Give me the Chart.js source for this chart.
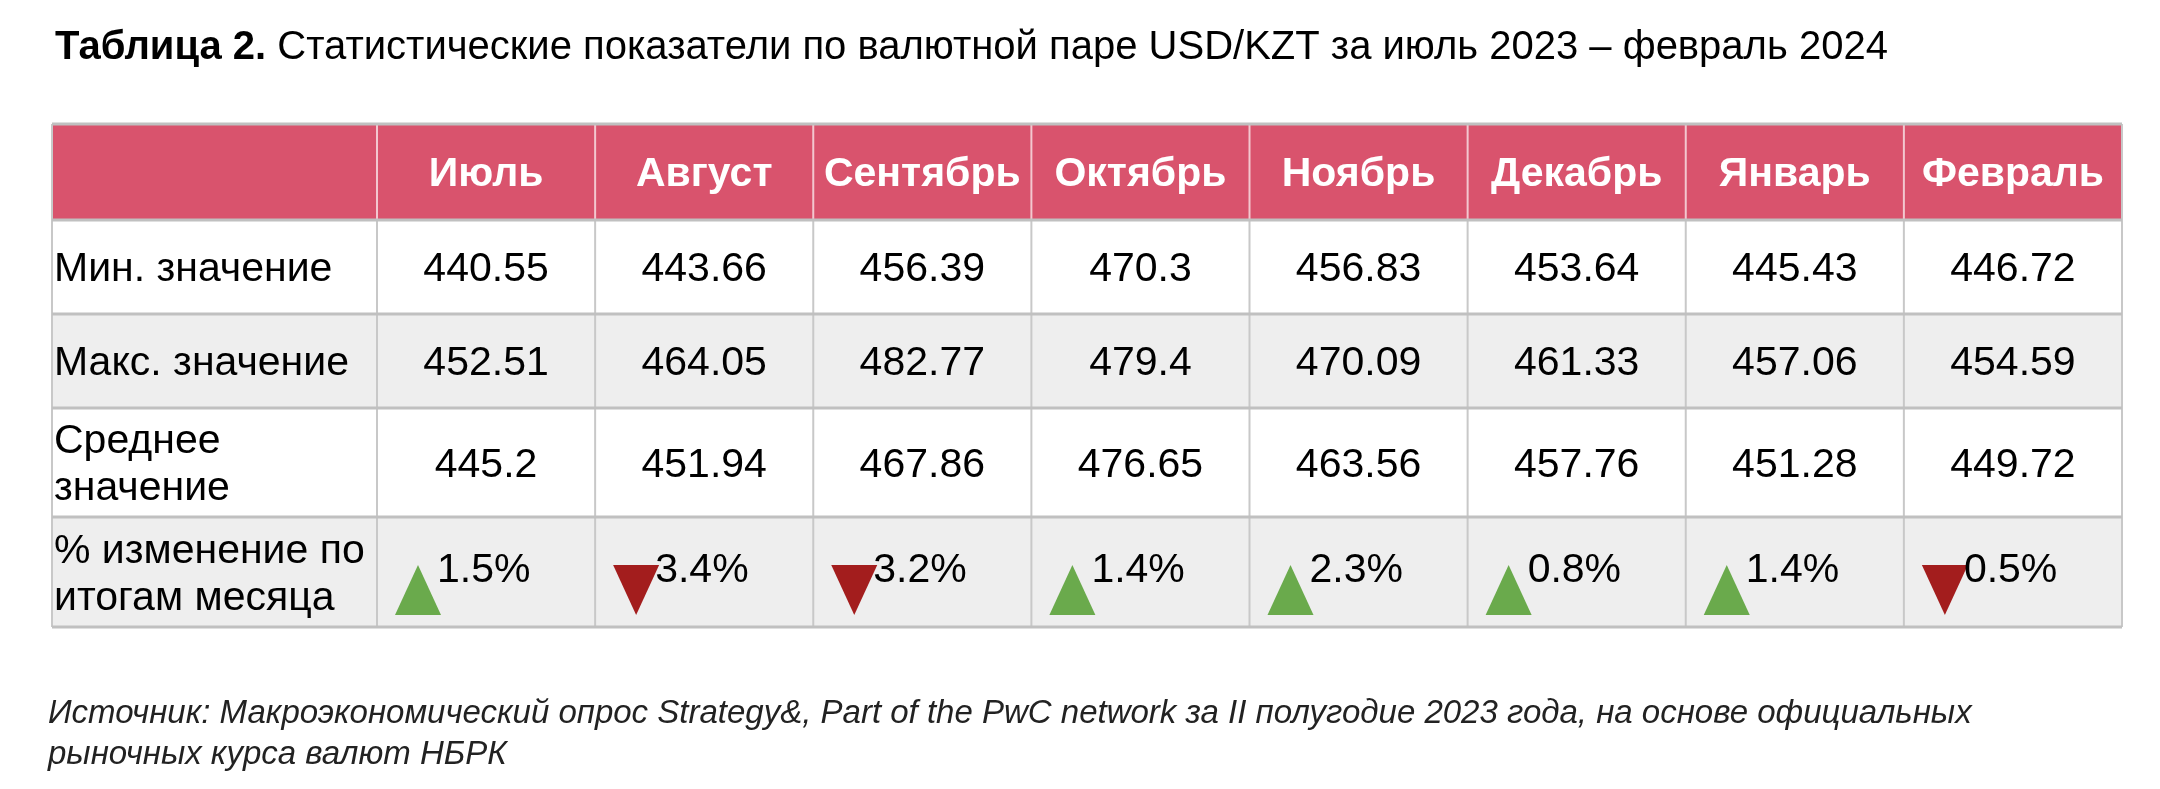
<!DOCTYPE html>
<html lang="ru">
<head>
<meta charset="UTF-8">
<title>USD/KZT</title>
<script src="https://cdn.jsdelivr.net/npm/chart.js"></script>
<style>
  html, body { margin: 0; padding: 0; background: #fff; }
  #wrap { width: 2160px; height: 789px; }
</style>
</head>
<body>
<div id="wrap"><canvas id="tbl"></canvas></div>
<script>
    // данные таблицы
    const months = ['Июль', 'Август', 'Сентябрь', 'Октябрь', 'Ноябрь', 'Декабрь', 'Январь', 'Февраль'];
    const rowLabels = [['Мин. значение'], ['Макс. значение'], ['Среднее', 'значение'], ['% изменение по', 'итогам месяца']];
    const minVals = ['440.55', '443.66', '456.39', '470.3', '456.83', '453.64', '445.43', '446.72'];
    const maxVals = ['452.51', '464.05', '482.77', '479.4', '470.09', '461.33', '457.06', '454.59'];
    const avgVals = ['445.2', '451.94', '467.86', '476.65', '463.56', '457.76', '451.28', '449.72'];
    const changeVals = [1.5, -3.4, -3.2, 1.4, 2.3, 0.8, 1.4, -0.5];

    // границы колонок и строк в единицах шкал
    const colEdges = [0, 1.49, 2.49, 3.49, 4.49, 5.49, 6.49, 7.49, 8.49, 9.49];
    const rowEdges = [0, 0.96, 1.90, 2.84, 3.93, 5.03];

    const FONT = 'Arial, "Liberation Sans", sans-serif';

    const tablePlugin = {
        id: 'tablePlugin',
        afterDraw(chart) {
            const c = chart.ctx, sx = chart.scales.x, sy = chart.scales.y;
            const X = v => sx.getPixelForValue(v), Y = v => sy.getPixelForValue(v);
            c.save();

            // заголовок
            c.fillStyle = '#000';
            c.textBaseline = 'middle';
            c.textAlign = 'left';
            c.font = 'bold 40px ' + FONT;
            const t1 = 'Таблица 2.';
            c.fillText(t1, 55, 48);
            const w1 = c.measureText(t1).width;
            c.font = '40px ' + FONT;
            c.fillText(' Статистические показатели по валютной паре USD/KZT за июль 2023 – февраль 2024', 55 + w1, 48);

            // фон строк
            const rowFill = ['#d9536d', '#ffffff', '#eeeeee', '#ffffff', '#eeeeee'];
            for (let r = 0; r < 5; r++) {
                c.fillStyle = rowFill[r];
                c.fillRect(X(0), Y(rowEdges[r]), X(9.49) - X(0), Y(rowEdges[r + 1]) - Y(rowEdges[r]));
            }

            // линии
            c.lineWidth = 2;
            for (let i = 0; i < colEdges.length; i++) {
                c.strokeStyle = '#c8c8c8';
                c.beginPath(); c.moveTo(X(colEdges[i]), Y(rowEdges[1])); c.lineTo(X(colEdges[i]), Y(rowEdges[5])); c.stroke();
                c.strokeStyle = (i === 0 || i === colEdges.length - 1) ? '#c8c8c8' : '#f3c7cf';
                c.beginPath(); c.moveTo(X(colEdges[i]), Y(rowEdges[0])); c.lineTo(X(colEdges[i]), Y(rowEdges[1])); c.stroke();
            }
            c.strokeStyle = '#c0c0c0';
            c.lineWidth = 3;
            for (let r = 0; r < rowEdges.length; r++) {
                c.beginPath(); c.moveTo(X(0), Y(rowEdges[r])); c.lineTo(X(9.49), Y(rowEdges[r])); c.stroke();
            }

            // шапка
            c.fillStyle = '#fff';
            c.textAlign = 'center';
            c.font = 'bold 41px ' + FONT;
            months.forEach((m, i) => {
                c.fillText(m, (X(colEdges[i + 1]) + X(colEdges[i + 2])) / 2, (Y(rowEdges[0]) + Y(rowEdges[1])) / 2 + 3);
            });

            // подписи строк
            c.fillStyle = '#000';
            c.textAlign = 'left';
            c.font = '41px ' + FONT;
            rowLabels.forEach((lines, r) => {
                const mid = (Y(rowEdges[r + 1]) + Y(rowEdges[r + 2])) / 2;
                lines.forEach((ln, k) => {
                    c.fillText(ln, X(0) + 2, mid + 3 + (k - (lines.length - 1) / 2) * 47);
                });
            });

            // значения
            c.textAlign = 'center';
            [minVals, maxVals, avgVals].forEach((arr, r) => {
                const mid = (Y(rowEdges[r + 1]) + Y(rowEdges[r + 2])) / 2;
                arr.forEach((v, i) => {
                    c.fillText(v, (X(colEdges[i + 1]) + X(colEdges[i + 2])) / 2, mid + 3);
                });
            });

            // изменение с треугольниками
            const top = Y(rowEdges[4]);
            changeVals.forEach((v, i) => {
                const left = X(colEdges[i + 1]);
                const tx = left + 18, ty = top + 48, th = 50, tw = 46;
                c.beginPath();
                if (v >= 0) {
                    c.fillStyle = '#6aaa4c';
                    c.moveTo(tx, ty + th); c.lineTo(tx + tw / 2, ty); c.lineTo(tx + tw, ty + th);
                } else {
                    c.fillStyle = '#a31d1d';
                    c.moveTo(tx, ty); c.lineTo(tx + tw / 2, ty + th); c.lineTo(tx + tw, ty);
                }
                c.closePath(); c.fill();
                c.fillStyle = '#000';
                c.textAlign = 'left';
                c.fillText(Math.abs(v).toFixed(1) + '%', tx + tw - 4, top + 54);
            });

            // источник
            c.font = 'italic 33px ' + FONT;
            c.fillStyle = '#222';
            c.fillText('Источник: Макроэкономический опрос Strategy&, Part of the PwC network за II полугодие 2023 года, на основе официальных', 48, 714);
            c.fillText('рыночных курса валют НБРК', 48, 755);
            c.restore();
        }
    };

    new Chart(document.getElementById('tbl'), {
        type: 'scatter',
        data: { datasets: [{ data: [] }] },
        options: {
            responsive: true,
            maintainAspectRatio: false,
            animation: false,
            layout: { padding: { left: 52, top: 124, right: 38, bottom: 162 } },
            plugins: { legend: { display: false }, tooltip: { enabled: false } },
            scales: {
                x: { type: 'linear', min: 0, max: 9.49, display: false },
                y: { type: 'linear', min: 0, max: 5.03, reverse: true, display: false }
            }
        },
        plugins: [tablePlugin]
    });
</script>
</body>
</html>
